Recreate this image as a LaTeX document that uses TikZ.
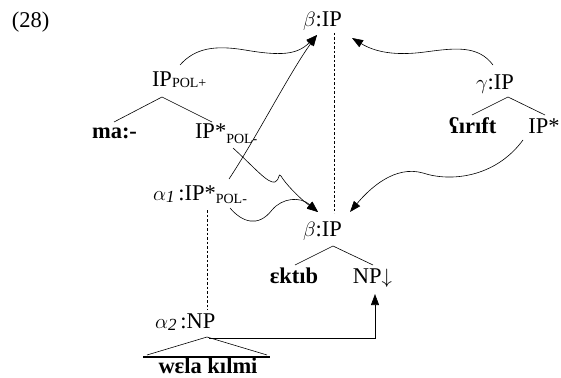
\documentclass[tikz,border=0pt]{standalone}
\usepackage{fontspec}
\setmainfont{Liberation Serif}
\usetikzlibrary{arrows.meta}
\newcommand\polsub[2]{\raisebox{-#1}{\fontsize{14}{14}\selectfont #2}}
\newcommand\idx[1]{\raisebox{-2pt}{\fontsize{17}{17}\selectfont\itshape #1}}
\begin{document}
\begin{tikzpicture}[x=1pt,y=-1pt,
  every node/.style={inner sep=0pt, outer sep=0pt, font=\fontsize{22.5}{26}\selectfont},
  branch/.style={line width=0.6pt},
  move/.style={line width=0.6pt, -{Triangle[length=11pt,width=8pt]}},
  link/.style={line width=0.6pt, dashed, dash pattern=on 2.5pt off 2pt}]
\useasboundingbox (0,0) rectangle (561,377);

% labels
\node[anchor=base west] (n28) at (12,28) {(28)};
\node[anchor=base] (btop) at (322.5,27) {$\beta$:IP};
\node[anchor=base west] (ipplus) at (152,87) {IP\polsub{1pt}{POL+}};
\node[anchor=base] (ma) at (114.5,138) {\textbf{ma:-}};
\node[anchor=base west] (ipminus) at (195,138) {IP*\polsub{5pt}{POL-}};
\node[anchor=base west] (alpha1) at (153,200) {$\alpha$\idx{1}\,:IP*\polsub{3pt}{POL-}};
\node[anchor=base west] (alpha2) at (155,328) {$\alpha$\idx{2}\,:NP};
\node[anchor=base] (bbot) at (322.5,236) {$\beta$:IP};
\node[anchor=base] (ektib) at (294,283) {\textbf{ɛktıb}};
\node[anchor=base] (np) at (372.5,283) {NP$\downarrow$};
\node[anchor=base] (gamma) at (495,90) {$\gamma$:IP};
\node[anchor=base] (sirift) at (472.5,133) {\textbf{ʕırıft}};
\node[anchor=base] (ipstar) at (544,133) {IP*};
\node[anchor=base] (wela) at (208,373.5) {\textbf{wɛla kılmi}};

% tree branches
\coordinate (aplus) at (162,97);
\coordinate (lplus) at (114,122);
\coordinate (rplus) at (212,122);
\draw[branch] (lplus) -- (aplus) -- (rplus);
\coordinate (agam) at (508,97);
\coordinate (lgam) at (472,115);
\coordinate (rgam) at (545,115);
\draw[branch] (lgam) -- (agam) -- (rgam);
\coordinate (abot) at (333,246);
\coordinate (lbot) at (295,265);
\coordinate (rbot) at (373,265);
\draw[branch] (lbot) -- (abot) -- (rbot);
\coordinate (atri) at (207,337);
\coordinate (ltri) at (147,355);
\coordinate (rtri) at (267,355);
\draw[branch] (ltri) -- (atri) -- (rtri);
\coordinate (bl) at (143,357);
\coordinate (br) at (270,357);
\draw[line width=1.8pt] (bl) -- (br);

% dashed links
\coordinate (d1a) at (334,33);
\coordinate (d1b) at (334,213);
\draw[link] (d1a) -- (d1b);
\coordinate (d2a) at (207,210);
\coordinate (d2b) at (207,310);
\draw[link] (d2a) -- (d2b);

% arrow end points
\coordinate (ttl) at (317,35);
\coordinate (ttr) at (352,38);
\coordinate (tbl) at (318,212);
\coordinate (tbr) at (350,212);
\coordinate (tnp) at (375,294);

% arrows
\coordinate (s1) at (180,65);
\draw[move] (s1) .. controls (195,48) and (215,45) .. (245,50)
  .. controls (280,56) and (297,55) .. (ttl);
\coordinate (s2) at (229,179);
\draw[move] (s2) .. controls (255,140) and (290,72) .. (ttl);
\coordinate (s3) at (493,65);
\draw[move] (s3) .. controls (478,45) and (455,48) .. (425,52)
  .. controls (395,56) and (375,52) .. (ttr);
\coordinate (s4) at (233,148);
\draw[move] (s4) .. controls (255,168) and (268,184) .. (275,182)
  .. controls (280,180) and (278,172) .. (281,176)
  .. controls (285,183) and (298,197) .. (tbl);
\coordinate (s5) at (230,208);
\draw[move] (s5) .. controls (242,222) and (258,228) .. (272,210)
  .. controls (282,198) and (300,196) .. (tbl);
\coordinate (s6) at (523,140);
\draw[move] (s6) .. controls (495,178) and (450,182) .. (423,173)
  .. controls (395,165) and (370,188) .. (tbr);
\coordinate (s7) at (209,338);
\draw[move] (s7) -- (375,338) -- (tnp);
\end{tikzpicture}
\end{document}
